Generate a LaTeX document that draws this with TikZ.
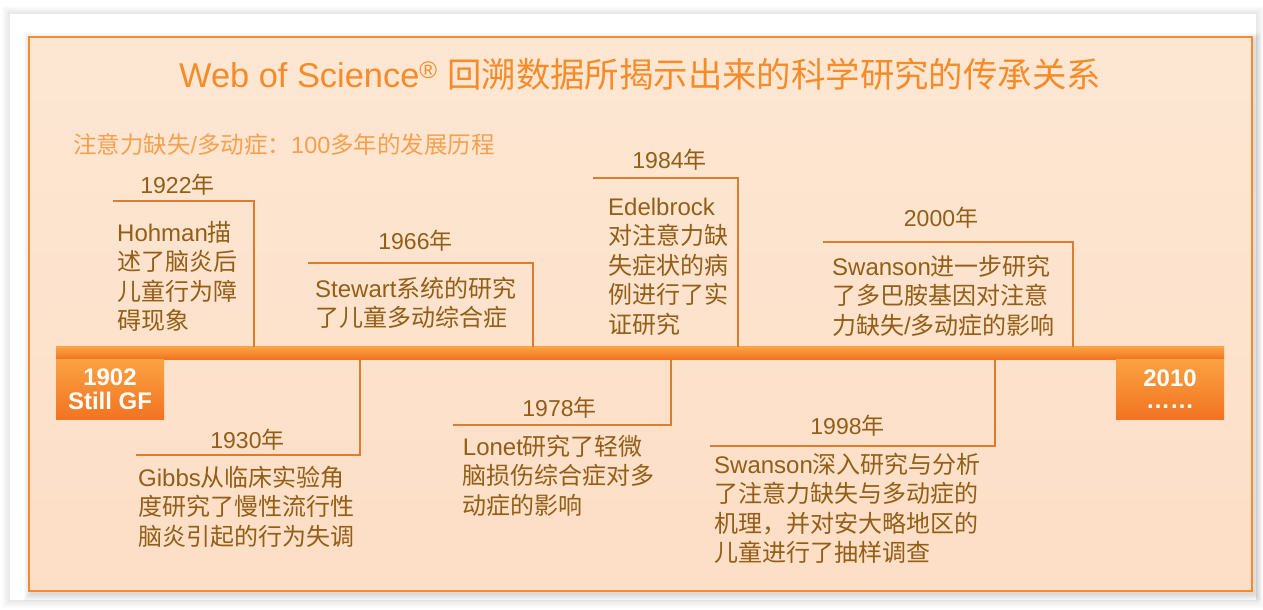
\documentclass[tikz,border=0pt]{standalone}
\usepackage{fontspec}
\setmainfont{Noto Sans CJK SC}
\newfontfamily\latf{Liberation Sans}
\newcommand\LA[1]{{\latf #1}}
\definecolor{peachtop}{HTML}{FDE7D3}
\definecolor{peachbot}{HTML}{FDDEC6}
\definecolor{frameor}{HTML}{F58A2E}
\definecolor{titleor}{HTML}{F68B28}
\definecolor{subor}{HTML}{F7A04E}
\definecolor{txtbrown}{HTML}{935E16}
\definecolor{lineor}{HTML}{DC7C2C}
\definecolor{bartop}{HTML}{FBA243}
\definecolor{barbot}{HTML}{F27321}
\tikzset{
  bracket/.style={draw=lineor, line width=2pt},
  yearlbl/.style={inner sep=0pt, anchor=base, text=txtbrown, font=\fontsize{23}{27}\selectfont},
  desc/.style={inner sep=0pt, anchor=base west, align=left, text=txtbrown, font=\fontsize{24}{29.5}\selectfont},
  endbox/.style={inner sep=0pt, draw=none, top color=bartop, bottom color=barbot, minimum width=108pt, minimum height=60pt, anchor=north west},
  boxtxt/.style={inner sep=0pt, anchor=base, align=center, text=white, font=\latf\bfseries\fontsize{24}{24}\selectfont}
}
\begin{document}
\begin{tikzpicture}[x=1pt,y=-1pt]
\useasboundingbox (0,0) rectangle (1263,610);
\fill[white] (0,0) rectangle (1263,610);
% faint card shadow
\foreach \i in {1,...,8}{
  \fill[black, opacity=0.012] (10-\i,14-\i) rectangle (1256+\i,600+\i);
}
\fill[white] (10,14) rectangle (1256,600);
% peach box shadow
\foreach \i in {1,...,7}{
  \fill[black, opacity=0.018] (29+2-\i,37+3-\i) rectangle (1252+2+\i,591+3+\i);
}
\shade[top color=peachtop, bottom color=peachbot] (29,37) rectangle (1252,591);
\draw[frameor, line width=1.5pt] (29,37) rectangle (1252,591);

% title
\node[inner sep=0pt, anchor=base, text=titleor, font=\fontsize{34.4}{40}\selectfont] (title) at (640,88)
  {\LA{Web of Science\textsuperscript{®} }回溯数据所揭示出来的科学研究的传承关系};
\node[inner sep=0pt, anchor=base west, text=subor, font=\fontsize{23.5}{28}\selectfont] (subtitle) at (73,153)
  {注意力缺失\LA{/}多动症：\LA{100}多年的发展历程};

% timeline bar and end boxes
\node[inner sep=0pt, top color=bartop, bottom color=barbot, minimum width=1168pt, minimum height=12.3pt, anchor=north west] (bar) at (56,346.7) {};
\node[endbox] (startbox) at (56,359) {};
\node[endbox] (endbox) at (1116,359) {};
\node[boxtxt] (starttxt) at (110,409) {1902\\Still GF};
\node[boxtxt] (endtxt) at (1170,408) {2010\\[-2pt]……};

% brackets above
\coordinate (h1922) at (113,200.7); \coordinate (k1922) at (254,200.7);
\coordinate (h1966) at (308,262.7); \coordinate (k1966) at (533,262.7);
\coordinate (h1984) at (593,177.5); \coordinate (k1984) at (738,177.5);
\coordinate (h2000) at (823,241.5); \coordinate (k2000) at (1073,241.5);
\foreach \n in {1922,1966,1984,2000}{
  \draw[bracket] (h\n) -- (k\n) -- (k\n |- bar.north);
}
% brackets below
\coordinate (h1930) at (136,455); \coordinate (k1930) at (360,455);
\coordinate (h1978) at (453,424.5); \coordinate (k1978) at (671,424.5);
\coordinate (h1998) at (710,446); \coordinate (k1998) at (995,446);
\foreach \n in {1930,1978,1998}{
  \draw[bracket] (h\n) -- (k\n) -- (k\n |- bar.south);
}

% year labels
\node[yearlbl] (y1922) at (177.5,193) {\LA{1922}年};
\node[yearlbl] (y1966) at (415.5,249) {\LA{1966}年};
\node[yearlbl] (y1984) at (669.5,168) {\LA{1984}年};
\node[yearlbl] (y2000) at (941,226) {\LA{2000}年};
\node[yearlbl] (y1930) at (247.5,448) {\LA{1930}年};
\node[yearlbl] (y1978) at (559.5,416.5) {\LA{1978}年};
\node[yearlbl] (y1998) at (847.5,434.5) {\LA{1998}年};

% descriptions (anchor = baseline of last line)
\node[desc] (d1922) at (117,329.5) {\LA{Hohman}描\\述了脑炎后\\儿童行为障\\碍现象};
\node[desc] (d1966) at (315,326.5) {\LA{Stewart}系统的研究\\了儿童多动综合症};
\node[desc] (d1984) at (608,333) {\LA{Edelbrock}\\对注意力缺\\失症状的病\\例进行了实\\证研究};
\node[desc] (d2000) at (832,334) {\LA{Swanson}进一步研究\\了多巴胺基因对注意\\力缺失\LA{/}多动症的影响};
\node[desc] (d1930) at (138,545) {\LA{Gibbs}从临床实验角\\度研究了慢性流行性\\脑炎引起的行为失调};
\node[desc] (d1978) at (462.7,514) {\LA{Lonet}研究了轻微\\脑损伤综合症对多\\动症的影响};
\node[desc] (d1998) at (714,561.5) {\LA{Swanson}深入研究与分析\\了注意力缺失与多动症的\\机理，并对安大略地区的\\儿童进行了抽样调查};
\end{tikzpicture}
\end{document}
